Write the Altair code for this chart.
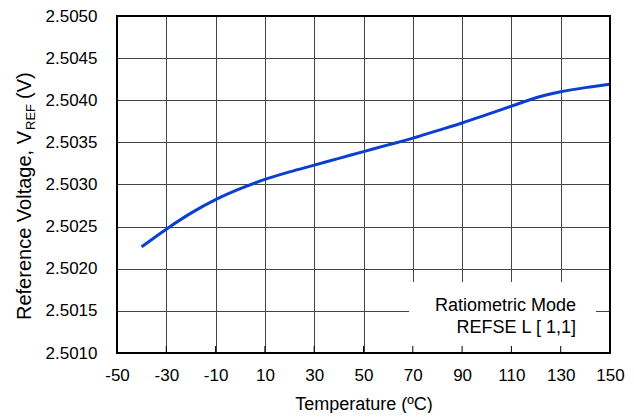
import altair as alt
import pandas as pd

# ---- data ----
temps = [-40, -30, -20, -10, 0, 10, 20, 30, 40, 50, 60, 70, 80, 90, 100, 110, 120, 130, 140, 150]
vref = [2.50226, 2.50247, 2.50266, 2.50282, 2.50295, 2.50306, 2.50315, 2.50323, 2.50331, 2.50339,
        2.50347, 2.50355, 2.50364, 2.50373, 2.50383, 2.50393, 2.50403, 2.50410, 2.50415, 2.50419]
x_ticks = [-50, -30, -10, 10, 30, 50, 70, 90, 110, 130, 150]
y_ticks = [2.5010, 2.5015, 2.5020, 2.5025, 2.5030, 2.5035, 2.5040, 2.5045, 2.5050]
x_title = "Temperature (ºC)"
y_title_parts = ["Reference Voltage, V", "REF", "(V)"]
legend_lines = ["Ratiometric Mode", "REFSE L [ 1,1]"]

W, H = 493, 337
FONT = "Liberation Sans"
GRID = "#444444"

df = pd.DataFrame({"t": temps, "v": vref})
xt = pd.DataFrame({"t": x_ticks})

xscale = alt.Scale(domain=[-50, 150], nice=False, zero=False)
yscale = alt.Scale(domain=[2.501, 2.505], nice=False, zero=False)

xaxis = alt.Axis(values=x_ticks, grid=True, gridColor=GRID, gridWidth=1, gridOpacity=1,
                 domain=False, ticks=False, labelFontSize=17, labelFont=FONT,
                 labelColor="black", labelPadding=14, labelFlush=False,
                 labelExpr="datum.value < 0 ? '-' + format(-datum.value, 'd') : format(datum.value, 'd')",
                 title=x_title, titleFontSize=18, titleFont=FONT, titleFontWeight="normal",
                 titleColor="black", titlePadding=12)
yaxis = alt.Axis(values=y_ticks, format=".4f", grid=True, gridColor=GRID, gridWidth=1,
                 gridOpacity=1, domain=False, ticks=False, labelFontSize=17, labelFont=FONT,
                 labelColor="black", labelPadding=20, labelFlush=False, title=None)

line = alt.Chart(df).mark_line(color="#0b3fcf", strokeWidth=3, interpolate="monotone").encode(
    x=alt.X("t:Q", scale=xscale, axis=xaxis),
    y=alt.Y("v:Q", scale=yscale, axis=yaxis),
)

box = alt.Chart(pd.DataFrame({"a": [0]})).mark_rect(fill="white", stroke=None).encode(
    x=alt.value(292), x2=alt.value(479), y=alt.value(266), y2=alt.value(H)
)

leg1 = alt.Chart(pd.DataFrame({"s": [legend_lines[0]]})).mark_text(
    align="right", baseline="alphabetic", font=FONT, fontSize=18, color="black"
).encode(text="s:N", x=alt.value(459), y=alt.value(295))
leg2 = alt.Chart(pd.DataFrame({"s": [legend_lines[1]]})).mark_text(
    align="right", baseline="alphabetic", font=FONT, fontSize=18, color="black"
).encode(text="s:N", x=alt.value(459), y=alt.value(317))

ticks = alt.Chart(xt).mark_rule(color="black", strokeWidth=1).encode(
    x=alt.X("t:Q", scale=xscale, axis=xaxis), y=alt.value(H), y2=alt.value(H - 7)
)

border = alt.Chart(pd.DataFrame({"a": [0]})).mark_rect(
    fill=None, stroke="black", strokeWidth=2
).encode(x=alt.value(0), x2=alt.value(W), y=alt.value(0), y2=alt.value(H))

yt_main = alt.Chart(pd.DataFrame({"s": [y_title_parts[0]]})).mark_text(
    angle=270, align="left", baseline="alphabetic", font=FONT, fontSize=20, color="black"
).encode(text="s:N", x=alt.value(-86), y=alt.value(304))
yt_sub = alt.Chart(pd.DataFrame({"s": [y_title_parts[1]]})).mark_text(
    angle=270, align="left", baseline="alphabetic", font=FONT, fontSize=13, color="black"
).encode(text="s:N", x=alt.value(-82), y=alt.value(114))
yt_end = alt.Chart(pd.DataFrame({"s": [y_title_parts[2]]})).mark_text(
    angle=270, align="left", baseline="alphabetic", font=FONT, fontSize=20, color="black"
).encode(text="s:N", x=alt.value(-86), y=alt.value(83))

chart = alt.layer(line, box, leg1, leg2, ticks, border, yt_main, yt_sub, yt_end).properties(
    width=W, height=H,
    padding={"left": 109, "top": 8, "right": 16, "bottom": 60},
    autosize=alt.AutoSizeParams(type="none"),
).configure_view(stroke=None)

chart.save("out.html", embed_options={"renderer": "svg", "actions": False})
